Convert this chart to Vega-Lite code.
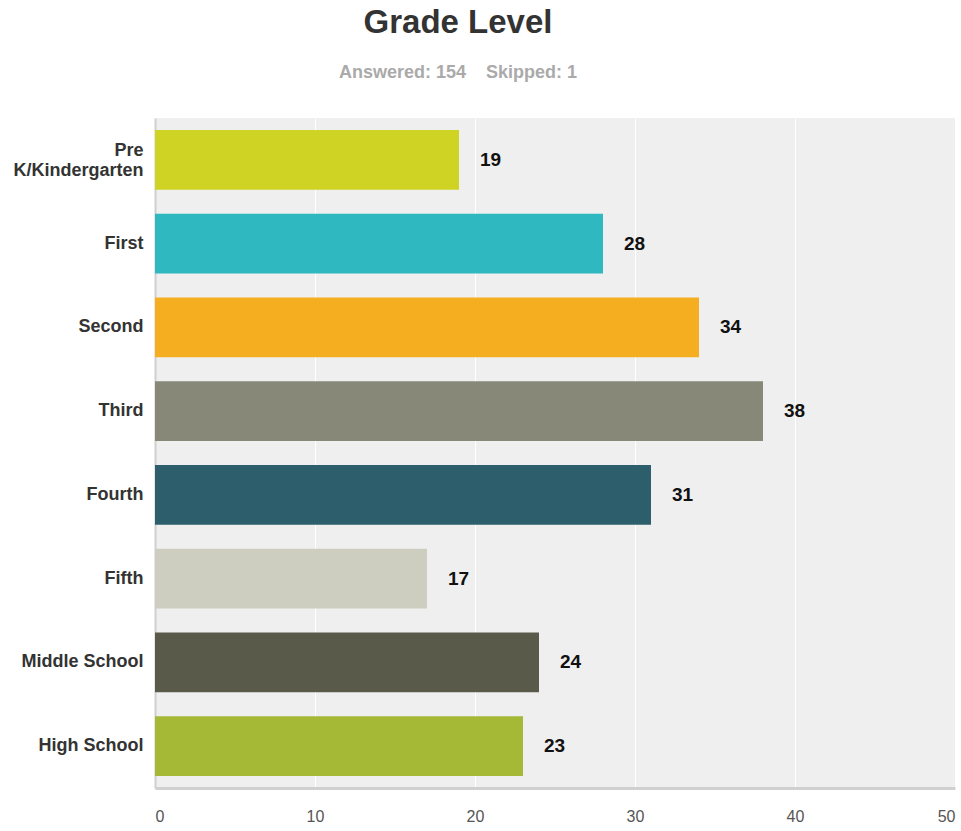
{
  "$schema": "https://vega.github.io/schema/vega-lite/v6.json",
  "width": 800,
  "height": 670,
  "padding": {"left": 12, "top": 7, "right": 2, "bottom": 5},
  "background": "white",
  "config": {
    "font": "Liberation Sans",
    "view": {"fill": "#efefef", "stroke": null}
  },
  "title": {
    "text": "Grade Level",
    "subtitle": "Answered: 154\u00a0\u00a0\u00a0\u00a0Skipped: 1",
    "anchor": "middle",
    "frame": "group",
    "dx": -97,
    "fontSize": 33,
    "fontWeight": "bold",
    "color": "#333333",
    "subtitleFontSize": 18,
    "subtitleFontWeight": "bold",
    "subtitleColor": "#aaaaaa",
    "subtitlePadding": 24,
    "offset": 36
  },
  "data": {
    "values": [
      {"grade": "Pre K/Kindergarten", "count": 19, "color": "#cfd324"},
      {"grade": "First", "count": 28, "color": "#2fb8c0"},
      {"grade": "Second", "count": 34, "color": "#f5ae1f"},
      {"grade": "Third", "count": 38, "color": "#878878"},
      {"grade": "Fourth", "count": 31, "color": "#2d5e6c"},
      {"grade": "Fifth", "count": 17, "color": "#cdcebf"},
      {"grade": "Middle School", "count": 24, "color": "#5a5a4a"},
      {"grade": "High School", "count": 23, "color": "#a5b937"}
    ]
  },
  "encoding": {
    "y": {
      "field": "grade",
      "type": "nominal",
      "sort": null,
      "title": null,
      "scale": {"paddingInner": 0.286, "paddingOuter": 0.143},
      "axis": {
        "labelExpr": "datum.label == 'Pre K/Kindergarten' ? ['Pre', 'K/Kindergarten'] : datum.label",
        "labelFontSize": 18,
        "labelFontWeight": "bold",
        "labelColor": "#333333",
        "labelLineHeight": 20,
        "labelPadding": 12,
        "labelOffset": {"condition": {"test": "datum.value == 'Pre K/Kindergarten'", "value": -9}, "value": 0},
        "ticks": false,
        "domainColor": "#d0d0d0",
        "domainWidth": 2,
        "labelLimit": 300
      }
    },
    "x": {
      "field": "count",
      "type": "quantitative",
      "title": null,
      "scale": {"domain": [0, 50], "nice": false},
      "axis": {
        "values": [0, 10, 20, 30, 40, 50],
        "labelFontSize": 16,
        "labelColor": "#555555",
        "labelPadding": 20,
        "ticks": false,
        "grid": true,
        "gridColor": "#ffffff",
        "gridWidth": 1,
        "domainColor": "#d0d0d0",
        "domainWidth": 3
      }
    }
  },
  "layer": [
    {
      "mark": {"type": "bar"},
      "encoding": {
        "color": {"field": "color", "type": "nominal", "scale": null}
      }
    },
    {
      "mark": {"type": "text", "align": "left", "baseline": "middle", "dx": 21, "fontSize": 19, "fontWeight": "bold", "color": "#111111"},
      "encoding": {
        "text": {"field": "count", "type": "quantitative"}
      }
    }
  ]
}
